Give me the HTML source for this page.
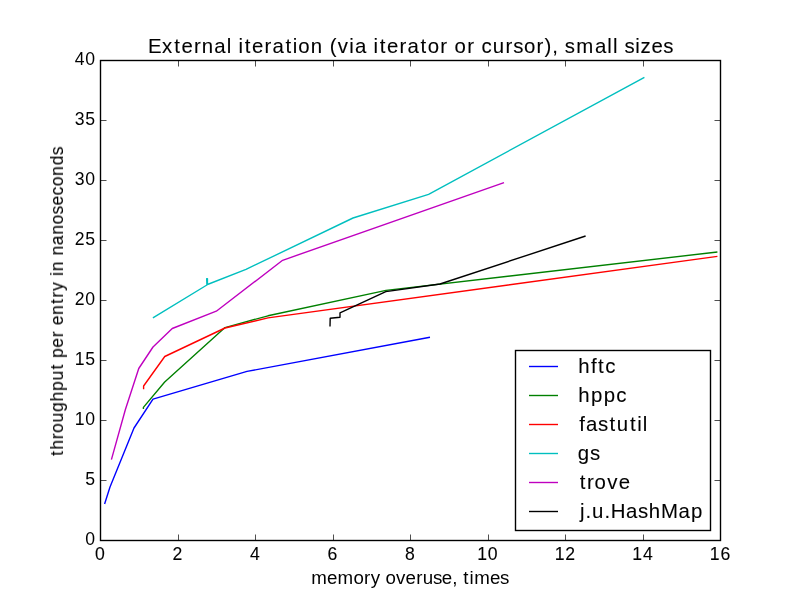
<!DOCTYPE html>
<html lang="en"><head><meta charset="utf-8"><title>External iteration (via iterator or cursor), small sizes</title>
<style>html,body{margin:0;padding:0;background:#fff;overflow:hidden}svg{display:block}text{font-family:"Liberation Sans",sans-serif;fill:#000;white-space:pre}</style></head><body>
<svg width="800" height="600" viewBox="0 0 800 600">
<rect width="800" height="600" fill="#fff"/>
<clipPath id="ax"><rect x="100" y="60" width="620" height="480"/></clipPath>
<g clip-path="url(#ax)" fill="none" stroke-width="1.389" stroke-linejoin="round" stroke-linecap="butt">
<polyline stroke="#0000ff" points="104.6,504 110,487 134,428 153,399.2 247,371.4 430,337.3"/>
<polyline stroke="#008000" points="143.4,408.9 143.4,407.4 164.7,382 225,327.6 268,315.8 386,290.4 717.4,252"/>
<polyline stroke="#ff0000" points="143.6,389.3 143.6,386 164.75,356.5 225,328 268,317.9 717.4,256.4"/>
<polyline stroke="#00bfbf" points="152.9,317.9 206.9,285 206.65,278.6 207.45,278.6 207.45,284.5 246,269.4 353,218 428.6,194.4 644.4,77.35"/>
<polyline stroke="#bf00bf" points="111.4,459.6 125.4,409.5 138.75,368.5 153,347 172.25,328.5 216.3,311.2 282.6,260.3 504,182.6"/>
<polyline stroke="#000000" points="330,326.5 330.2,318.2 340,317.3 340,312.8 385.8,291.6 440,284 585.6,236"/>
</g>
<g stroke="#000" stroke-width="0.694" fill="none">
<path d="M100.5 540.5v-6.00M100.5 60.5v6.00"/>
<path d="M178.5 540.5v-6.00M178.5 60.5v6.00"/>
<path d="M255.5 540.5v-6.00M255.5 60.5v6.00"/>
<path d="M333.5 540.5v-6.00M333.5 60.5v6.00"/>
<path d="M410.5 540.5v-6.00M410.5 60.5v6.00"/>
<path d="M488.5 540.5v-6.00M488.5 60.5v6.00"/>
<path d="M565.5 540.5v-6.00M565.5 60.5v6.00"/>
<path d="M643.5 540.5v-6.00M643.5 60.5v6.00"/>
<path d="M720.5 540.5v-6.00M720.5 60.5v6.00"/>
<path d="M100.5 540.5h6.00M720.5 540.5h-6.00"/>
<path d="M100.5 480.5h6.00M720.5 480.5h-6.00"/>
<path d="M100.5 420.5h6.00M720.5 420.5h-6.00"/>
<path d="M100.5 360.5h6.00M720.5 360.5h-6.00"/>
<path d="M100.5 300.5h6.00M720.5 300.5h-6.00"/>
<path d="M100.5 240.5h6.00M720.5 240.5h-6.00"/>
<path d="M100.5 180.5h6.00M720.5 180.5h-6.00"/>
<path d="M100.5 120.5h6.00M720.5 120.5h-6.00"/>
<path d="M100.5 60.5h6.00M720.5 60.5h-6.00"/>
</g>
<rect x="100.5" y="60.5" width="620" height="480" fill="none" stroke="#000" stroke-width="1.389"/>
<rect x="515.50" y="350.50" width="195.00" height="180.00" fill="#fff" stroke="#000" stroke-width="1.389"/>
<path d="M529.00 366.5H558.00" stroke="#0000ff" stroke-width="1.389" fill="none"/>
<path d="M529.00 395.5H558.00" stroke="#008000" stroke-width="1.389" fill="none"/>
<path d="M529.00 424.5H558.00" stroke="#ff0000" stroke-width="1.389" fill="none"/>
<path d="M529.00 453.5H558.00" stroke="#00bfbf" stroke-width="1.389" fill="none"/>
<path d="M529.00 482.5H558.00" stroke="#bf00bf" stroke-width="1.389" fill="none"/>
<path d="M529.00 511.5H558.00" stroke="#000000" stroke-width="1.389" fill="none"/>
<g opacity="0.999">
<text transform="scale(1.0000,1)" font-size="20.4" stroke="#000" stroke-width="0.1" x="148.04 162.02 174.15 181.41 193.98 201.8 214.3 226.64 232.04 238.58 244.73 252 264.56 272.55 285.47 292.75 298.27 310.76 323.14 329.67 337.82 349.37 354.89 367.06 373.61 379.76 387.02 399.59 407.58 420.49 427.72 440.25 448.12 454.61 467.14 475.01 481.45 492.74 505.5 513.14 523.92 536.46 544.49 552.15 558.53 564.67 576.27 595 607.34 612.91 618.32 624.46 635.31 640.52 651.38 663.35" y="53">External iteration (via iterator or cursor), small sizes</text>
<text transform="scale(1.0400,1)" font-size="18" x="299.23 314.43 324.64 339.8 349.99 356.5 365.77 370.7 380.82 389.97 400.18 406.52 416.26 424.83 434.8 439.88 445.55 451.41 455.92 471.11 480.7" y="584">memory overuse, times</text>
<text transform="translate(63,456.63) rotate(-90) scale(0.9600,1)" font-size="18" stroke="#000" stroke-width="0.1" x="0.89 7.27 18.33 24.78 35.57 46.55 57.53 68.52 79.5 90.89 97.03 102.78 113.6 124.49 131.3 136.88 147.69 159.08 165.54 172.72 182.59 188.25 193.14 203.88 209.62 220.41 231.2 241.99 252.3 261.63 272.22 281.78 292.56 303.54 314.06" y="0">throughput per entry in nanoseconds</text>
<text transform="scale(0.9800,1)" font-size="18" stroke="#000" stroke-width="0.1" x="97.04" y="560">0</text>
<text transform="scale(0.9800,1)" font-size="18" stroke="#000" stroke-width="0.1" x="176.12" y="560">2</text>
<text transform="scale(0.9800,1)" font-size="18" stroke="#000" stroke-width="0.1" x="255.2" y="560">4</text>
<text transform="scale(0.9800,1)" font-size="18" stroke="#000" stroke-width="0.1" x="334.28" y="560">6</text>
<text transform="scale(0.9800,1)" font-size="18" stroke="#000" stroke-width="0.1" x="413.36" y="560">8</text>
<text transform="scale(0.9800,1)" font-size="18" stroke="#000" stroke-width="0.1" x="487.05 497.84" y="560">10</text>
<text transform="scale(0.9800,1)" font-size="18" stroke="#000" stroke-width="0.1" x="566.13 576.92" y="560">12</text>
<text transform="scale(0.9800,1)" font-size="18" stroke="#000" stroke-width="0.1" x="645.21 656" y="560">14</text>
<text transform="scale(0.9800,1)" font-size="18" stroke="#000" stroke-width="0.1" x="724.29 735.08" y="560">16</text>
<text transform="scale(0.9800,1)" font-size="18" x="86.99" y="545">0</text>
<text transform="scale(0.9800,1)" font-size="18" x="86.99" y="485">5</text>
<text transform="scale(0.9800,1)" font-size="18" x="76.19 86.99" y="425">10</text>
<text transform="scale(0.9800,1)" font-size="18" x="76.19 86.99" y="365">15</text>
<text transform="scale(0.9800,1)" font-size="18" x="76.19 86.99" y="305">20</text>
<text transform="scale(0.9800,1)" font-size="18" x="76.19 86.99" y="245">25</text>
<text transform="scale(0.9800,1)" font-size="18" x="76.19 86.99" y="185">30</text>
<text transform="scale(0.9800,1)" font-size="18" x="76.19 86.99" y="125">35</text>
<text transform="scale(0.9800,1)" font-size="18" x="76.19 86.99" y="65">40</text>
<text transform="scale(1.0000,1)" font-size="20.4" stroke="#000" stroke-width="0.1" x="578.21 590.91 597.98 605.13" y="373">hftc</text>
<text transform="scale(1.0000,1)" font-size="20.4" stroke="#000" stroke-width="0.1" x="578.34 591.02 603.72 616.13" y="402">hppc</text>
<text transform="scale(1.0000,1)" font-size="20.4" stroke="#000" stroke-width="0.1" x="579.29 586.1 598.01 609.41 616.83 629.92 637.19 642.75" y="431">fastutil</text>
<text transform="scale(1.0000,1)" font-size="20.4" stroke="#000" stroke-width="0.1" x="577.82 589.95" y="460">gs</text>
<text transform="scale(1.0000,1)" font-size="20.4" stroke="#000" stroke-width="0.1" x="579.65 587.12 594.57 607.18 618.68" y="489">trove</text>
<text transform="scale(1.0000,1)" font-size="20.4" stroke="#000" stroke-width="0.1" x="580.05 585.44 592.12 604.47 610.64 625.98 637.89 648.87 661.01 678.59 691.06" y="518">j.u.HashMap</text>
</g>
</svg></body></html>
